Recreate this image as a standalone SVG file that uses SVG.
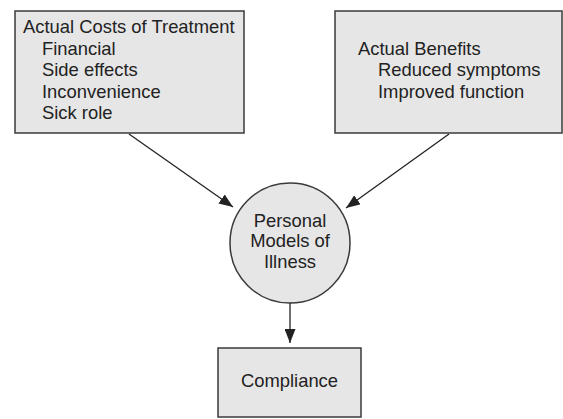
<svg xmlns="http://www.w3.org/2000/svg" width="563" height="419" viewBox="0 0 563 419">
<style>
.box{fill:#e6e6e6;stroke:#3a3a3a;stroke-width:1.5}
.t{font-family:"Liberation Sans",Arial,sans-serif;font-size:18.4px;fill:#222}
.c{text-anchor:middle}
.edge{stroke:#222;stroke-width:1.3;fill:none;marker-end:url(#ah)}
</style>
<defs>
<marker id="ah" viewBox="0 0 14 11" refX="14" refY="5.5" markerWidth="14" markerHeight="11" markerUnits="userSpaceOnUse" orient="auto">
<path d="M0,0 L14,5.5 L0,11 z" fill="#222"/>
</marker>
</defs>
<rect width="563" height="419" fill="#fff"/>
<g id="costs">
<rect class="box" x="15" y="11" width="229" height="122"/>
<text class="t" x="23" y="33">Actual Costs of Treatment</text>
<text class="t" x="42" y="55">Financial</text>
<text class="t" x="42" y="76">Side effects</text>
<text class="t" x="42" y="98">Inconvenience</text>
<text class="t" x="42" y="119">Sick role</text>
</g>
<g id="benefits">
<rect class="box" x="335" y="11" width="227" height="122"/>
<text class="t" x="358" y="55">Actual Benefits</text>
<text class="t" x="378" y="76">Reduced symptoms</text>
<text class="t" x="378" y="98">Improved function</text>
</g>
<g id="models">
<circle class="box" cx="290" cy="243" r="60"/>
<text class="t c" x="290" y="227">Personal</text>
<text class="t c" x="290" y="247">Models of</text>
<text class="t c" x="290" y="268">Illness</text>
</g>
<g id="compliance">
<rect class="box" x="218" y="348" width="143" height="69"/>
<text class="t c" x="289.5" y="387">Compliance</text>
</g>
<g id="connectors">
<line class="edge" x1="129" y1="134" x2="233" y2="207"/>
<line class="edge" x1="449" y1="134" x2="346" y2="208"/>
<line class="edge" x1="290" y1="303" x2="290" y2="343"/>
</g>
</svg>
